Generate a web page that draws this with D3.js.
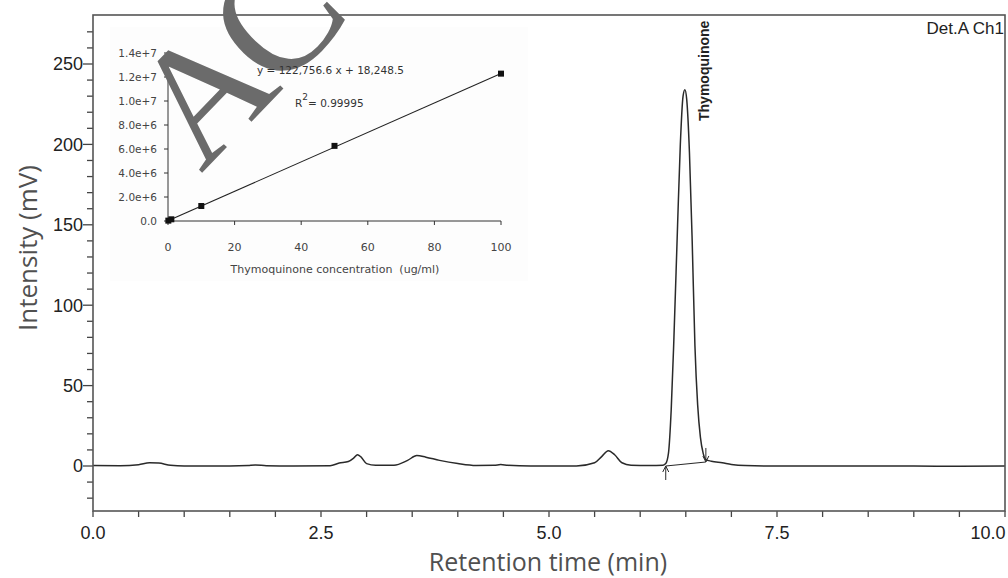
<!DOCTYPE html>
<html>
<head>
<meta charset="utf-8">
<script src="https://cdn.jsdelivr.net/npm/d3@7"></script>
<style>
  body { margin: 0; background: #fff; }
  svg { display: block; }
</style>
</head>
<body>
<div id="chart"></div>
<script>
// chromatogram (min, mV)
const traceTime = [0, 0.3, 0.5, 0.62, 0.72, 0.85, 1.0, 1.5, 1.7, 1.78, 1.9, 2.2, 2.6, 2.7, 2.8, 2.86, 2.9, 2.94, 3.0, 3.1, 3.3, 3.45, 3.55, 3.65, 3.8, 4.0, 4.2, 4.4, 4.47, 4.55, 4.8, 5.3, 5.5, 5.58, 5.65, 5.72, 5.8, 5.9, 6.1, 6.25, 6.28, 6.31, 6.34, 6.37, 6.41, 6.44, 6.47, 6.49, 6.51, 6.54, 6.57, 6.6, 6.63, 6.66, 6.69, 6.72, 6.78, 6.9, 7.0, 7.15, 7.5, 8.0, 9.0, 9.5, 10.0];
const traceMv   = [0.3, 0.2, 0.8, 2.0, 1.8, 0.4, 0, 0, 0.3, 0.6, 0.2, 0, 0.2, 1.8, 2.8, 5, 7, 5.5, 1.5, 0.5, 0.5, 3.5, 6.5, 5.5, 3.5, 1.5, 0.3, 0.4, 0.9, 0.4, 0, 0, 2, 6, 9.5, 7, 2, 0.5, 0.3, 0.5, 1.5, 8, 35, 80, 150, 200, 230, 234, 228, 195, 140, 75, 38, 18, 8, 4, 3, 2, 1, 0.3, 0, 0, 0, -0.2, 0];

// integration marks of the main peak
const peakStart = [6.28, 0];
const peakEnd = [6.72, 2.5];
const peakName = "Thymoquinone";

const yTicks = [0, 50, 100, 150, 200, 250];
const xTicks = [0, 2.5, 5, 7.5, 10];

// calibration inset
const calConc = [0.1, 1, 10, 50, 100];
const calArea = [31000, 141000, 1250000, 6260000, 12280000];
const trendConc = [0, 100];
const trendArea = [18248.5, 12293900];
const calYTicks = [0, 2e6, 4e6, 6e6, 8e6, 1e7, 1.2e7, 1.4e7];
const calYLabels = ["0.0", "2.0e+6", "4.0e+6", "6.0e+6", "8.0e+6", "1.0e+7", "1.2e+7", "1.4e+7"];
const calXTicks = [0, 20, 40, 60, 80, 100];

const W = 1008, H = 578;
const svg = d3.select("#chart").append("svg").attr("width", W).attr("height", H);

const x = d3.scaleLinear().domain([0, 10]).range([93, 1005]);
const y = d3.scaleLinear().domain([0, 250]).range([466, 64]);
const frameTop = 15, frameBottom = 511;
const tickFont = "Liberation Sans, Arial";

// y ticks (outside, left)
const yMinor = d3.range(-20, 280, 10);
svg.append("g").selectAll("line").data(yMinor).join("line")
  .attr("x1", d => x(0) - (d % 50 === 0 ? 10 : 6)).attr("x2", x(0))
  .attr("y1", d => y(d)).attr("y2", d => y(d))
  .attr("stroke", "#444").attr("stroke-width", 1.3);
svg.append("g").selectAll("text").data(yTicks).join("text")
  .attr("x", x(0) - 10).attr("y", d => y(d)).attr("dy", "0.36em")
  .attr("text-anchor", "end").attr("font-family", tickFont)
  .attr("font-size", 18).attr("fill", "#222").text(d => d);

// x ticks (outside, down)
const xMinor = d3.range(0, 10.01, 0.5);
svg.append("g").selectAll("line").data(xMinor).join("line")
  .attr("x1", d => x(d)).attr("x2", d => x(d))
  .attr("y1", frameBottom).attr("y2", frameBottom + 6)
  .attr("stroke", "#444").attr("stroke-width", 1.3);
svg.append("g").selectAll("text").data(xTicks).join("text")
  .attr("x", d => x(d) - (d === 10 ? 17 : 0)).attr("y", 539)
  .attr("text-anchor", "middle").attr("font-family", tickFont)
  .attr("font-size", 18).attr("fill", "#222").text(d => d.toFixed(1));

// axis titles
svg.append("text").attr("transform", "translate(37,248) rotate(-90)")
  .attr("text-anchor", "middle").attr("font-family", "Open Sans, sans-serif")
  .attr("font-size", 26).attr("fill", "#505050").text("Intensity (mV)");
svg.append("text").attr("x", 548).attr("y", 571)
  .attr("text-anchor", "middle").attr("font-family", "Open Sans, sans-serif")
  .attr("font-size", 25).attr("fill", "#505050").text("Retention time (min)");

// inset (calibration curve)
const ins = svg.append("g");
ins.append("rect").attr("x", 110).attr("y", 27).attr("width", 418).attr("height", 254).attr("fill", "#fdfdfd");
const cx = d3.scaleLinear().domain([0, 100]).range([168, 501]);
const cy = d3.scaleLinear().domain([0, 1.4e7]).range([221, 53]);
const insFont = "DejaVu Sans, Verdana, sans-serif";

ins.append("line").attr("x1", cx(0)).attr("x2", cx(0)).attr("y1", cy(0)).attr("y2", cy(1.4e7)).attr("stroke", "#333");
ins.append("line").attr("x1", cx(0)).attr("x2", cx(100)).attr("y1", cy(0)).attr("y2", cy(0)).attr("stroke", "#333");
ins.append("g").selectAll("line").data(calYTicks).join("line")
  .attr("x1", cx(0) - 4).attr("x2", cx(0)).attr("y1", d => cy(d)).attr("y2", d => cy(d)).attr("stroke", "#333");
ins.append("g").selectAll("text").data(calYTicks).join("text")
  .attr("x", 157).attr("y", d => cy(d)).attr("dy", "0.35em").attr("text-anchor", "end")
  .attr("font-family", insFont).attr("font-size", 10.5).attr("fill", "#444")
  .text((d, i) => calYLabels[i]);
ins.append("g").selectAll("line").data(calXTicks).join("line")
  .attr("x1", d => cx(d)).attr("x2", d => cx(d)).attr("y1", cy(0)).attr("y2", cy(0) + 4).attr("stroke", "#333");
ins.append("g").selectAll("text").data(calXTicks).join("text")
  .attr("x", d => cx(d)).attr("y", 251).attr("text-anchor", "middle")
  .attr("font-family", insFont).attr("font-size", 11).attr("fill", "#444").text(d => d);
ins.append("text").attr("x", 335).attr("y", 273).attr("text-anchor", "middle")
  .attr("font-family", insFont).attr("font-size", 11).attr("fill", "#444")
  .attr("xml:space", "preserve").text("Thymoquinone concentration  (ug/ml)");

ins.append("path")
  .attr("d", d3.line().x(d => cx(d[0])).y(d => cy(d[1]))(d3.zip(trendConc, trendArea)))
  .attr("fill", "none").attr("stroke", "#222").attr("stroke-width", 1.1);
ins.append("g").selectAll("rect").data(d3.zip(calConc, calArea)).join("rect")
  .attr("x", d => cx(d[0]) - 3).attr("y", d => cy(d[1]) - 3)
  .attr("width", 6).attr("height", 6).attr("fill", "#111");

// chromatogram trace
const line = d3.line().x(d => x(d[0])).y(d => y(d[1])).curve(d3.curveMonotoneX);
svg.append("path").attr("d", line(d3.zip(traceTime, traceMv)))
  .attr("fill", "none").attr("stroke", "#2a2a2a").attr("stroke-width", 1.5);

// integration baseline and arrows
svg.append("line").attr("x1", x(peakStart[0])).attr("y1", y(peakStart[1]))
  .attr("x2", x(peakEnd[0])).attr("y2", y(peakEnd[1])).attr("stroke", "#2a2a2a").attr("stroke-width", 1.2);
svg.append("line").attr("x1", x(peakStart[0])).attr("x2", x(peakStart[0]))
  .attr("y1", y(peakStart[1]) + 14).attr("y2", y(peakStart[1])).attr("stroke", "#2a2a2a");
svg.append("path").attr("d", `M${x(peakStart[0]) - 3},${y(peakStart[1]) + 6}L${x(peakStart[0])},${y(peakStart[1])}L${x(peakStart[0]) + 3},${y(peakStart[1]) + 6}`)
  .attr("fill", "none").attr("stroke", "#2a2a2a");
svg.append("line").attr("x1", x(peakEnd[0])).attr("x2", x(peakEnd[0]))
  .attr("y1", y(peakEnd[1]) - 14).attr("y2", y(peakEnd[1])).attr("stroke", "#2a2a2a");
svg.append("path").attr("d", `M${x(peakEnd[0]) - 3},${y(peakEnd[1]) - 6}L${x(peakEnd[0])},${y(peakEnd[1])}L${x(peakEnd[0]) + 3},${y(peakEnd[1]) - 6}`)
  .attr("fill", "none").attr("stroke", "#2a2a2a");

// peak label
svg.append("text").attr("transform", `translate(${x(6.49) + 24},121) rotate(-90)`)
  .attr("font-family", "Liberation Sans, Arial").attr("font-weight", "bold")
  .attr("font-size", 14).attr("fill", "#222").text(peakName);

svg.append("text").attr("x", 1004).attr("y", 34).attr("text-anchor", "end")
  .attr("font-family", "Liberation Sans, Arial").attr("font-size", 17).attr("fill", "#222")
  .text("Det.A Ch1");

// frame
svg.append("rect").attr("x", x(0)).attr("y", frameTop)
  .attr("width", x(10) - x(0)).attr("height", frameBottom - frameTop)
  .attr("fill", "none").attr("stroke", "#555").attr("stroke-width", 1.6);

// watermark
svg.append("text").attr("transform", "translate(201,174) rotate(-46)")
  .attr("font-family", "Liberation Serif, Times New Roman, serif")
  .attr("font-size", 166).attr("letter-spacing", -10).attr("fill", "#6b6b6b")
  .text("ACCEPTED MANUSCRIPT");

// regression text kept readable above the watermark
svg.append("text").attr("x", 257).attr("y", 74)
  .attr("font-family", insFont).attr("font-size", 10.5).attr("fill", "#333")
  .text("y = 122,756.6 x + 18,248.5");
const r2 = svg.append("text").attr("x", 295).attr("y", 107)
  .attr("font-family", insFont).attr("font-size", 10.5).attr("fill", "#333");
r2.append("tspan").text("R");
r2.append("tspan").attr("dy", -7).attr("font-size", 9).text("2");
r2.append("tspan").attr("dy", 7).text("= 0.99995");
</script>
</body>
</html>
